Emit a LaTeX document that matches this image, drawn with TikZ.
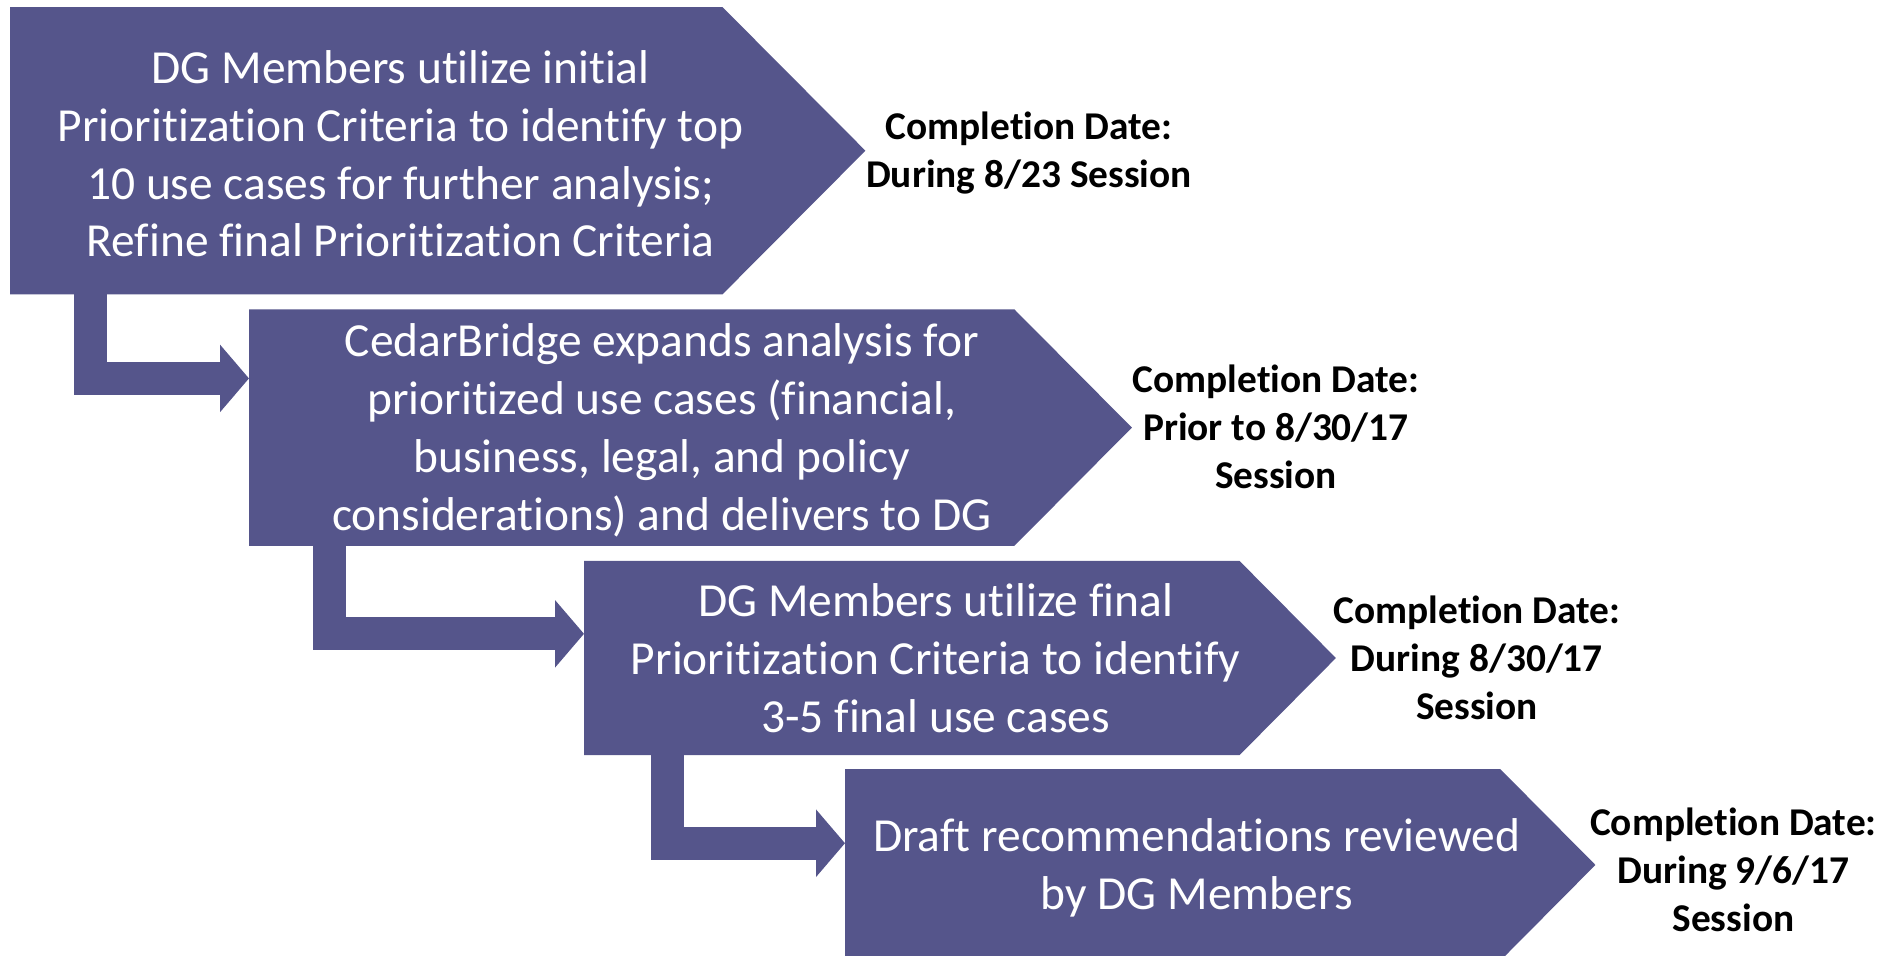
\documentclass[tikz,border=0pt]{standalone}
\usepackage{fontspec}
\setmainfont{Carlito}[Ligatures=NoCommon]
\usetikzlibrary{positioning,arrows.meta}

\definecolor{stepfill}{RGB}{85,85,139}

\tikzset{
  stepbox/.style={rectangle, inner sep=0pt},
  steptext/.style={align=center, text=white, inner sep=0pt,
    font=\fontsize{13.5}{16.5}\selectfont},
  datelabel/.style={align=center, anchor=west, inner sep=0pt,
    font=\bfseries\fontsize{11.2}{13.6}\selectfont},
  flowarrow/.style={draw=stepfill, line width=0.33cm, line join=miter,
    -{Triangle[length=0.29cm,width=0.66cm]}}
}

\begin{document}
\begin{tikzpicture}
  \useasboundingbox (0,0) rectangle (18.85,-9.55);

  % Step boxes (the body, the point is added below)
  \node [stepbox, minimum width=7.11cm, minimum height=2.86cm, anchor=north west] (s1) at (0.10,-0.07) {};
  \node [stepbox, minimum width=7.64cm, minimum height=2.35cm, anchor=north west] (s2) at ([shift={(2.39,-0.15)}]s1.south west) {};
  \node [stepbox, minimum width=6.54cm, minimum height=1.93cm, anchor=north west] (s3) at ([shift={(3.35,-0.15)}]s2.south west) {};
  \node [stepbox, minimum width=6.54cm, minimum height=1.90cm, anchor=north west] (s4) at ([shift={(2.61,-0.14)}]s3.south west) {};

  % Points of the steps
  \coordinate (tip1) at ([xshift=1.43cm]s1.east);
  \coordinate (tip2) at ([xshift=1.175cm]s2.east);
  \coordinate (tip3) at ([xshift=0.965cm]s3.east);
  \coordinate (tip4) at ([xshift=0.95cm]s4.east);

  \foreach \s in {1,2,3,4}
    \fill [stepfill] (s\s.north west) -- (s\s.north east) -- (tip\s)
      -- (s\s.south east) -- (s\s.south west) -- cycle;

  % Step texts
  \node [steptext] (t1) at ([shift={(0.345,-0.03)}]s1.center)
    {DG Members utilize initial\\Prioritization Criteria to identify top\\10 use cases for further analysis;\\Refine final Prioritization Criteria};
  \node [steptext] (t2) at ([shift={(0.30,-0.025)}]s2.center)
    {CedarBridge expands analysis for\\prioritized use cases (financial,\\business, legal, and policy\\considerations) and delivers to DG};
  \node [steptext] (t3) at ([shift={(0.24,-0.005)}]s3.center)
    {DG Members utilize final\\Prioritization Criteria to identify\\3-5 final use cases};
  \node [steptext] (t4) at ([shift={(0.24,-0.03)}]s4.center)
    {Draft recommendations reviewed\\by DG Members};

  % Completion dates
  \node [datelabel] (d1) at ([yshift=-0.02cm]tip1) {Completion Date:\\During 8/23 Session};
  \node [datelabel] (d2) at ([yshift=0.01cm]tip2) {Completion Date:\\Prior to 8/30/17\\Session};
  \node [datelabel] (d3) at ([shift={(-0.03,0)}]tip3) {Completion Date:\\During 8/30/17\\Session};
  \node [datelabel] (d4) at ([shift={(-0.06,-0.05)}]tip4) {Completion Date:\\During 9/6/17\\Session};

  % Bent arrows between steps
  \draw [flowarrow] ([xshift=0.80cm]s1.south west) |- ([yshift=-0.69cm]s2.north west);
  \draw [flowarrow] ([xshift=0.805cm]s2.south west) |- ([yshift=-0.73cm]s3.north west);
  \draw [flowarrow] ([xshift=0.83cm]s3.south west) |- ([yshift=-0.74cm]s4.north west);
\end{tikzpicture}
\end{document}
